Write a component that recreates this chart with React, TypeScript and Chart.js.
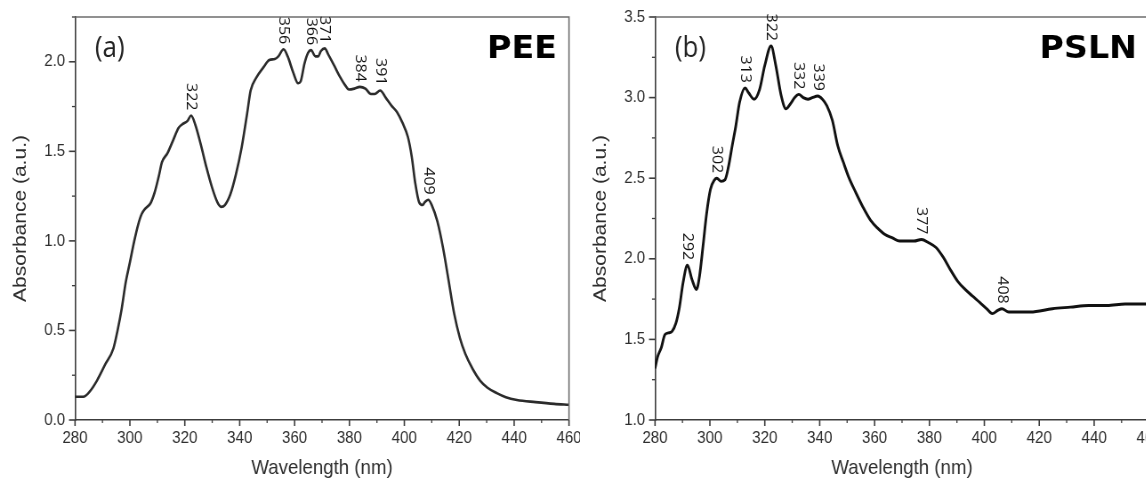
import React, { useEffect, useRef } from "react";
import { Chart, registerables } from "chart.js";

Chart.register(...registerables);

// ---------------- data ----------------
const wavelengthTicksMin = 280;
const wavelengthTicksMax = 460;

const peeWavelength = [280, 283, 285.4, 288, 291, 294, 295.5, 297, 298.5, 300, 301.6, 303, 304.3, 305.6, 307.5, 309, 310.5, 311.7, 313.7, 315.7, 317.7, 319, 321, 322.3, 323.8, 325.8, 327.9, 329.9, 331.9, 333.2, 334.6, 336.6, 338.6, 340.7, 342.7, 344, 346, 348.7, 350.8, 352.8, 354.1, 356, 357.5, 359.5, 361.3, 362.2, 363.6, 364.9, 366, 367.6, 368.6, 369.6, 371, 372.3, 374.4, 376.4, 378.4, 379.8, 381.8, 383.8, 385.8, 387.8, 389.2, 391.2, 393.2, 395.3, 397.3, 399.3, 401.3, 402.7, 404, 405.4, 406.7, 407.4, 408.7, 410, 412, 414.1, 416.1, 418.2, 420.2, 422.2, 424.9, 427.6, 430.3, 433.7, 437, 441, 447.8, 454.6, 460];
const peeAbsorbance = [0.13, 0.13, 0.16, 0.22, 0.31, 0.40, 0.50, 0.62, 0.77, 0.88, 1.00, 1.09, 1.15, 1.18, 1.21, 1.27, 1.36, 1.44, 1.49, 1.56, 1.63, 1.65, 1.67, 1.70, 1.65, 1.54, 1.41, 1.30, 1.215, 1.19, 1.20, 1.26, 1.37, 1.52, 1.71, 1.84, 1.91, 1.97, 2.01, 2.015, 2.03, 2.07, 2.03, 1.94, 1.88, 1.89, 1.99, 2.05, 2.065, 2.03, 2.03, 2.06, 2.075, 2.04, 1.98, 1.92, 1.87, 1.845, 1.85, 1.86, 1.85, 1.82, 1.82, 1.84, 1.80, 1.755, 1.72, 1.66, 1.58, 1.47, 1.32, 1.215, 1.20, 1.215, 1.23, 1.20, 1.11, 0.96, 0.78, 0.59, 0.46, 0.37, 0.285, 0.22, 0.18, 0.15, 0.127, 0.112, 0.10, 0.09, 0.085];
const peePeakAt = [322.3, 356, 366, 371, 383.8, 391.2, 408.7];
const peePeakAbsorbance = [1.70, 2.07, 2.065, 2.075, 1.86, 1.84, 1.23];
const peePeakLabels = ["322", "356", "366", "371", "384", "391", "409"];

const pslnWavelength = [280, 280.9, 282.3, 283.6, 284.9, 286.2, 287.6, 288.9, 290.2, 291.8, 293.5, 295.1, 296.2, 297.5, 298.8, 300.2, 301.7, 302.5, 304.1, 305.5, 306.8, 308.1, 309.4, 310.8, 312.8, 314.1, 316.1, 318.1, 320, 322.3, 324, 326, 327.7, 329.3, 330.9, 332.4, 334, 335.7, 337.3, 339.3, 341, 342.6, 344.6, 346.6, 348.6, 350.5, 353.2, 355.8, 358.5, 361.1, 363.8, 366.5, 369.1, 371.8, 374.4, 377.1, 379.7, 382.4, 385, 387.7, 390.3, 393, 395.6, 398.3, 400.9, 402.9, 404.9, 406.4, 408.9, 411.5, 416.8, 424.8, 431.4, 438, 444.7, 451.3, 460];
const pslnAbsorbance = [1.32, 1.39, 1.45, 1.53, 1.54, 1.55, 1.60, 1.70, 1.85, 1.96, 1.87, 1.81, 1.89, 2.08, 2.28, 2.43, 2.49, 2.50, 2.48, 2.49, 2.575, 2.70, 2.82, 2.97, 3.06, 3.03, 2.99, 3.05, 3.20, 3.32, 3.20, 3.01, 2.93, 2.96, 3.00, 3.02, 3.00, 2.99, 3.00, 3.01, 2.99, 2.95, 2.86, 2.70, 2.60, 2.51, 2.41, 2.32, 2.24, 2.19, 2.15, 2.13, 2.11, 2.11, 2.11, 2.12, 2.10, 2.07, 2.01, 1.93, 1.86, 1.81, 1.77, 1.73, 1.69, 1.66, 1.68, 1.69, 1.67, 1.67, 1.67, 1.69, 1.70, 1.71, 1.71, 1.72, 1.72];
const pslnPeakAt = [291.8, 302.5, 312.8, 322.3, 332.4, 339.3, 377.1, 406.6];
const pslnPeakAbsorbance = [1.96, 2.50, 3.06, 3.32, 3.02, 3.01, 2.12, 1.69];
const pslnPeakLabels = ["292", "302", "313", "322", "332", "339", "377", "408"];

// ---------------- layout / style ----------------
const W_DISP = 580;
const W_INT = 652;
const SX = W_DISP / W_INT; // horizontal display compression of the figure
const H = 483;
const PLOT_LEFT = 75; // display px within panel
const PLOT_RIGHT = 569;
const PLOT_TOP = 17;
const PLOT_BOTTOM = 420;

const AXIS_COLOR = "#3c3c3c";
const FRAME_COLOR = "#6e6e6e";
const TEXT_COLOR = "#2e2e2e";
const SANS = "'Liberation Sans', Arial, sans-serif";

type PanelSpec = {
  x: number[];
  y: number[];
  yMin: number;
  yMax: number;
  lineColor: string;
  lineWidth: number;
  peakAt: number[];
  peakAbs: number[];
  peakLabels: string[];
  tag: string;
  name: string;
};

const panels: PanelSpec[] = [
  { x: peeWavelength, y: peeAbsorbance, yMin: 0, yMax: 2.25, lineColor: "#2b2b2b", lineWidth: 2.6, peakAt: peePeakAt, peakAbs: peePeakAbsorbance, peakLabels: peePeakLabels, tag: "(a)", name: "PEE" },
  { x: pslnWavelength, y: pslnAbsorbance, yMin: 1, yMax: 3.5, lineColor: "#111111", lineWidth: 2.9, peakAt: pslnPeakAt, peakAbs: pslnPeakAbsorbance, peakLabels: pslnPeakLabels, tag: "(b)", name: "PSLN" },
];

const isMultiple = (v: number, step: number) => Math.abs(v / step - Math.round(v / step)) < 1e-6;

function makeDecorPlugin(spec: PanelSpec) {
  return {
    id: "decor",
    afterDraw(chart: any) {
      const { ctx, chartArea } = chart;
      const xs = chart.scales.x;
      const ys = chart.scales.y;
      const { left, right, top, bottom } = chartArea;
      ctx.save();
      // frame top and right
      ctx.strokeStyle = FRAME_COLOR;
      ctx.lineWidth = 1.6;
      ctx.beginPath();
      ctx.moveTo(left, top);
      ctx.lineTo(right, top);
      ctx.lineTo(right, bottom);
      ctx.stroke();
      // tick marks
      ctx.strokeStyle = AXIS_COLOR;
      xs.ticks.forEach((t: any) => {
        const px = xs.getPixelForValue(t.value);
        const major = isMultiple(t.value, 20);
        ctx.lineWidth = major ? 1.6 : 1.3;
        ctx.beginPath();
        ctx.moveTo(px, bottom);
        ctx.lineTo(px, bottom + (major ? 6 : 3));
        ctx.stroke();
      });
      ys.ticks.forEach((t: any) => {
        const py = ys.getPixelForValue(t.value);
        const major = isMultiple(t.value, 0.5);
        ctx.lineWidth = major ? 1.6 : 1.3;
        ctx.beginPath();
        ctx.moveTo(left, py);
        ctx.lineTo(left - (major ? 6 : 3) / SX, py);
        ctx.stroke();
      });
      // peak labels (rotated)
      ctx.fillStyle = "#111";
      ctx.font = "16px 'Open Sans', sans-serif";
      spec.peakAt.forEach((w, i) => {
        const px = xs.getPixelForValue(w);
        const py = ys.getPixelForValue(spec.peakAbs[i]) - 5;
        ctx.save();
        ctx.translate(px, py);
        ctx.rotate(Math.PI / 2);
        ctx.textAlign = "right";
        ctx.textBaseline = "middle";
        ctx.fillText(spec.peakLabels[i], 0, 0);
        ctx.restore();
      });
      // panel tag
      ctx.fillStyle = "#222";
      ctx.font = "29px 'Open Sans', sans-serif";
      ctx.textAlign = "left";
      ctx.textBaseline = "alphabetic";
      ctx.fillText(spec.tag, left + 20 / SX, 57);
      // sample name
      ctx.save();
      ctx.font = "bold 32px 'DejaVu Sans', sans-serif";
      ctx.fillStyle = "#000";
      ctx.textAlign = "right";
      ctx.translate(right - 12 / SX, 58);
      ctx.scale(1.17, 1);
      ctx.fillText(spec.name, 0, 0);
      ctx.restore();
      ctx.restore();
    },
  };
}

function buildConfig(spec: PanelSpec): any {
  const tickFont = { family: SANS, size: 17 };
  const titleFont = { family: SANS, size: 21 };
  return {
    type: "line",
    data: {
      datasets: [
        {
          data: spec.x.map((x, i) => ({ x, y: spec.y[i] })),
          borderColor: spec.lineColor,
          borderWidth: spec.lineWidth,
          pointRadius: 0,
          fill: false,
          cubicInterpolationMode: "monotone",
        },
      ],
    },
    options: {
      animation: false,
      responsive: false,
      devicePixelRatio: 1,
      events: [],
      layout: {
        autoPadding: false,
        padding: { top: PLOT_TOP, left: 0, bottom: 0, right: W_INT - PLOT_RIGHT / SX },
      },
      plugins: { legend: { display: false }, tooltip: { enabled: false }, title: { display: false } },
      scales: {
        x: {
          type: "linear",
          min: wavelengthTicksMin,
          max: wavelengthTicksMax,
          grid: { display: false, drawTicks: false },
          border: { display: true, color: AXIS_COLOR, width: 1.6 },
          ticks: {
            stepSize: 10,
            autoSkip: false,
            maxRotation: 0,
            padding: 8,
            color: TEXT_COLOR,
            font: tickFont,
            callback: (v: number) => (isMultiple(v, 20) ? String(v) : ""),
          },
          title: { display: true, text: "Wavelength (nm)", color: TEXT_COLOR, font: titleFont, padding: { top: 0, bottom: 2 } },
          afterFit: (s: any) => {
            s.height = H - PLOT_BOTTOM;
            s.paddingLeft = 0;
            s.paddingRight = 0;
          },
        },
        y: {
          type: "linear",
          min: spec.yMin,
          max: spec.yMax,
          grid: { display: false, drawTicks: false },
          border: { display: true, color: AXIS_COLOR, width: 1.6 },
          ticks: {
            stepSize: 0.25,
            autoSkip: false,
            padding: 11,
            color: TEXT_COLOR,
            font: tickFont,
            callback: (v: number) => (isMultiple(v, 0.5) ? Number(v).toFixed(1) : ""),
          },
          title: { display: true, text: "Absorbance (a.u.)", color: TEXT_COLOR, font: titleFont, padding: { top: 11, bottom: 0 } },
          afterFit: (s: any) => {
            s.width = PLOT_LEFT / SX;
            s.paddingTop = 0;
            s.paddingBottom = 0;
          },
        },
      },
    },
    plugins: [makeDecorPlugin(spec)],
  };
}

function Panel({ spec, left }: { spec: PanelSpec; left: number }) {
  const ref = useRef<HTMLCanvasElement>(null);
  useEffect(() => {
    const chart = new Chart(ref.current as HTMLCanvasElement, buildConfig(spec));
    return () => chart.destroy();
  }, [spec]);
  return (
    <canvas
      ref={ref}
      width={W_INT}
      height={H}
      style={{ position: "absolute", left: left + "px", top: "0px", width: W_DISP + "px", height: H + "px", display: "block" }}
    />
  );
}

export default function App() {
  return (
    <div style={{ position: "fixed", left: 0, top: 0, width: 1146, height: H, overflow: "hidden", background: "#fff" }}>
      <Panel spec={panels[0]} left={0} />
      <Panel spec={panels[1]} left={580} />
    </div>
  );
}
